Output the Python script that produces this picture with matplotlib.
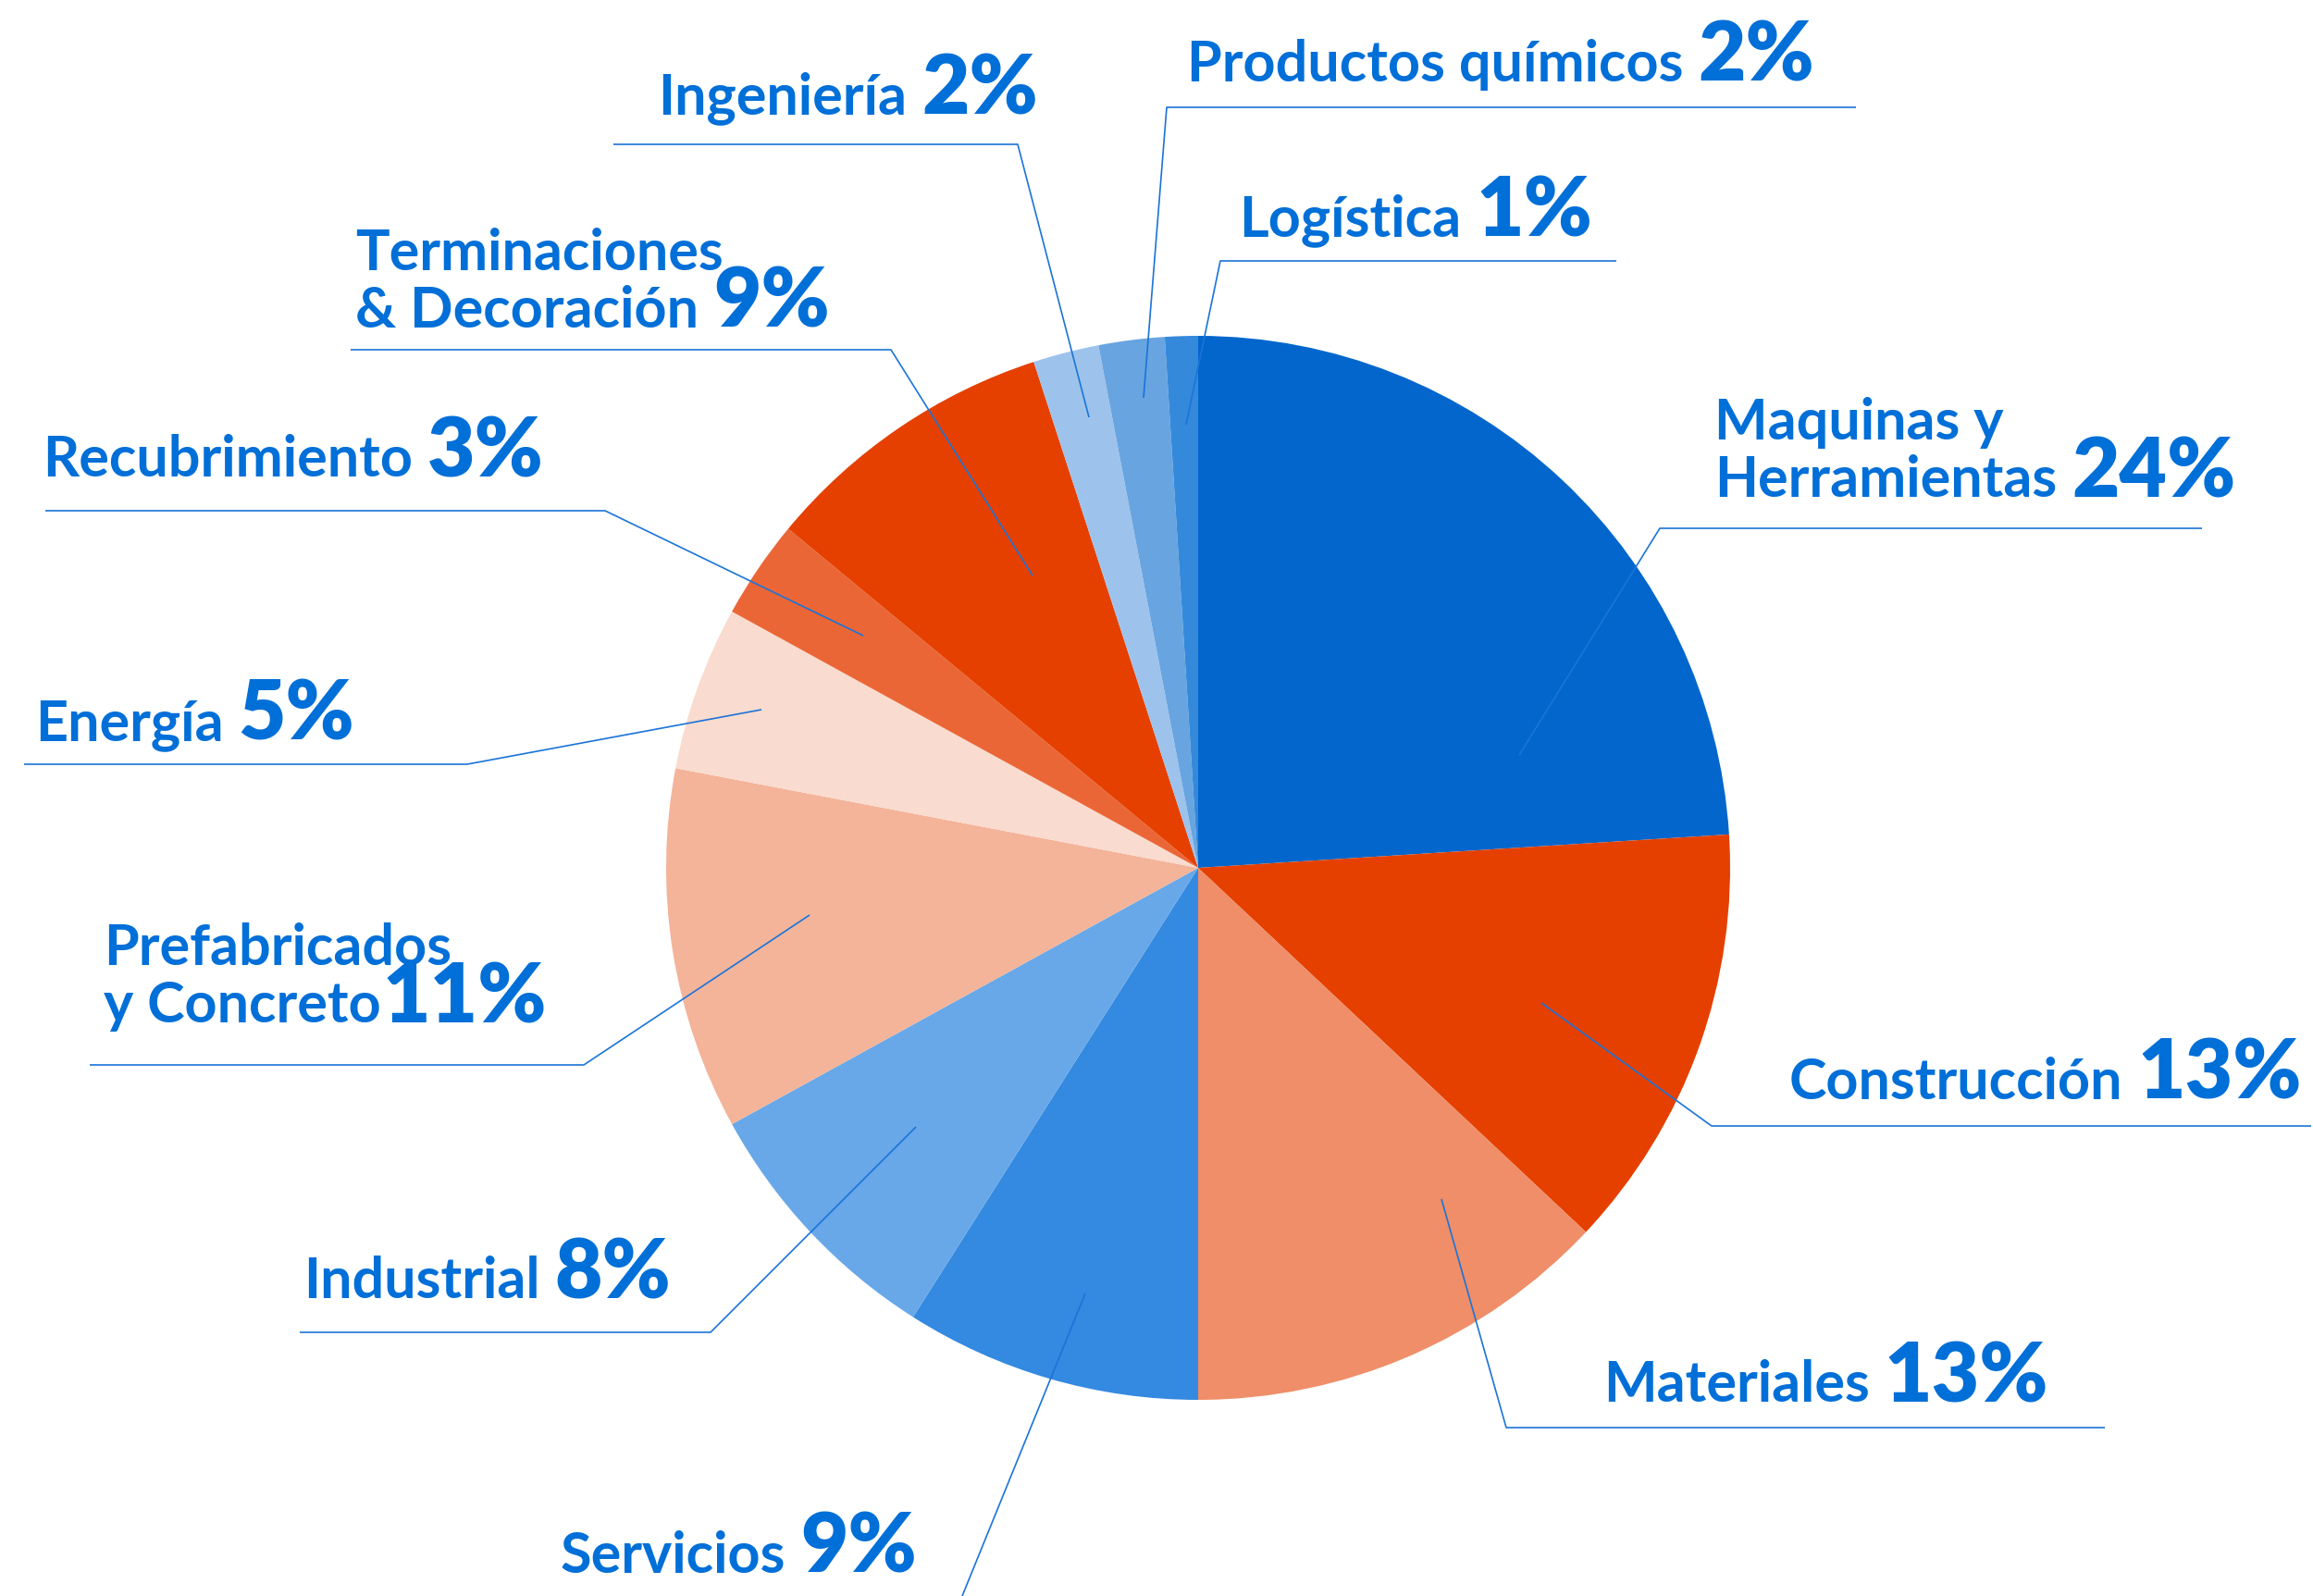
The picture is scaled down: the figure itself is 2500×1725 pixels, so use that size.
import matplotlib
matplotlib.use("Agg")
import matplotlib.pyplot as plt

W, H = 2500, 1725

# sectors, clockwise from 12 o'clock
sectors = ["Maquinas y\nHerramientas", "Construcción", "Materiales", "Servicios",
           "Industrial", "Prefabricados\ny Concreto", "Energía", "Recubrimiento",
           "Terminaciones\n& Decoración", "Ingeniería", "Productos químicos", "Logística"]
shares = [24, 13, 13, 9, 8, 11, 5, 3, 9, 2, 2, 1]
colors = ["#0366CC", "#E54000", "#EF8E68", "#3489E0", "#68A8E8", "#F4B49A",
          "#F9DBCF", "#EB6636", "#E54000", "#9DC3EC", "#68A4E0", "#3589DB"]

# label layout (pixels from top-left): x, baseline of last line
label_xy = [(1853, 537), (1934, 1188), (1733, 1515), (606, 1700), (328, 1403),
            (112, 1105), (38, 800), (46, 515), (384, 354), (711, 123),
            (1283, 88), (1339, 255)]
# leader lines: inner point, elbow, end
leaders = [
    [(1642, 816), (1794, 571), (2380, 571)],
    [(1666, 1084), (1850, 1217), (2498, 1217)],
    [(1558, 1296), (1628, 1543), (2275, 1543)],
    [(1173, 1398), (1040, 1725)],
    [(990, 1218), (768, 1440), (324, 1440)],
    [(875, 989), (631, 1151), (97, 1151)],
    [(823, 767), (505, 826), (26, 826)],
    [(933, 687), (654, 552), (49, 552)],
    [(1116, 622), (963, 378), (379, 378)],
    [(1177, 451), (1100, 156), (663, 156)],
    [(1236, 430), (1261, 116), (2006, 116)],
    [(1282, 459), (1319, 282), (1747, 282)],
]
pct_gap = [16, 16, 16, 16, 16, 2, 16, 16, 16, 16, 16, 16]

txt_color = "#006FD8"
line_color = "#1B74D8"
line_step = 62

fig = plt.figure(figsize=(W / 100, H / 100), dpi=100)
ax = fig.add_axes([0, 0, 1, 1])
ax.pie(shares, colors=colors, startangle=90, counterclock=False,
       center=(1295, H - 938), radius=575,
       wedgeprops=dict(linewidth=0, antialiased=True))
ax.set_xlim(0, W)
ax.set_ylim(0, H)
ax.set_aspect("equal")
ax.axis("off")

for pts in leaders:
    xs = [p[0] for p in pts]
    ys = [H - p[1] for p in pts]
    ax.plot(xs, ys, color=line_color, lw=1.2, solid_capstyle="butt", zorder=3)

renderer = fig.canvas.get_renderer()
for name, share, (x, y), gap in zip(sectors, shares, label_xy, pct_gap):
    lines = name.split("\n")
    last = None
    for i, ln in enumerate(lines):
        by = y - (len(lines) - 1 - i) * line_step
        t = ax.text(x, H - by, ln, fontsize=44, fontweight="bold", family="Lato",
                    color=txt_color, ha="left", va="baseline")
        last = t
    bb = last.get_window_extent(renderer=renderer)
    ax.text(bb.x1 + gap, H - y, f"{share}%", fontsize=64, fontweight="heavy",
            family="Lato", color=txt_color, ha="left", va="baseline")

fig.savefig("out.png", dpi=100)
